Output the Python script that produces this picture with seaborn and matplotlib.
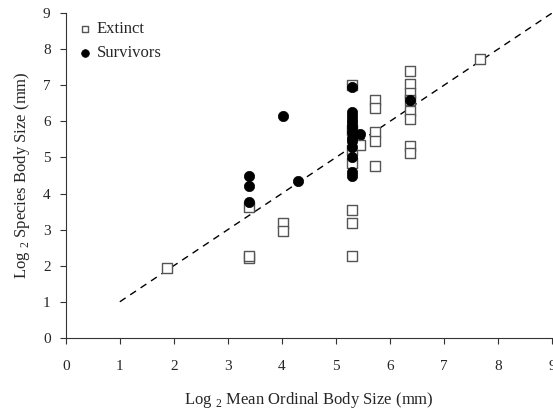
import matplotlib
matplotlib.use("Agg")
import matplotlib.pyplot as plt
import seaborn as sns
import numpy as np
import pandas as pd

# extinct species (open squares)
ext_x = [1.87, 3.4, 3.4, 3.4, 4.02, 4.02, 5.3, 5.3, 5.3, 5.3, 5.3, 5.3, 5.3,
         5.44, 5.73, 5.73, 5.73, 5.73, 5.73,
         6.37, 6.37, 6.37, 6.37, 6.37, 6.37, 6.37, 6.37, 7.67]
ext_y = [1.93, 2.2, 2.28, 3.62, 3.18, 2.96, 7.0, 5.75, 5.2, 4.85, 3.55, 3.18, 2.27,
         5.35, 6.6, 6.36, 5.7, 5.47, 4.76,
         7.4, 7.03, 6.8, 6.6, 6.3, 6.07, 5.33, 5.12, 7.72]

# surviving species (filled circles)
surv_x = [3.4, 3.4, 3.4, 4.02, 4.3,
          5.3, 5.3, 5.3, 5.3, 5.3, 5.3, 5.3, 5.3, 5.3, 5.3, 5.3, 5.3, 5.3,
          5.44, 6.37]
surv_y = [4.48, 4.2, 3.76, 6.15, 4.35,
          6.95, 6.25, 6.15, 6.05, 5.95, 5.85, 5.7, 5.55, 5.45, 5.3, 5.0, 4.6, 4.48,
          5.65, 6.58]

line_x = [1, 9]
line_y = [1, 9]

ticks = list(range(0, 10))

df = pd.DataFrame({
    "x": ext_x + surv_x,
    "y": ext_y + surv_y,
    "group": ["Extinct"] * len(ext_x) + ["Survivors"] * len(surv_x),
})

sns.set_style("ticks")
plt.rcParams["font.family"] = ["Liberation Serif", "DejaVu Serif"]
plt.rcParams["mathtext.fontset"] = "custom"
plt.rcParams["mathtext.rm"] = "Liberation Serif"

fig = plt.figure(figsize=(5.53, 4.11), dpi=100)
ax = fig.add_axes([0.119, 0.178, 0.879, 0.79])

ax.plot(line_x, line_y, ls=(0, (5, 4)), color="black", lw=1.0, zorder=1)

ext = df[df.group == "Extinct"]
surv = df[df.group == "Survivors"]
sns.scatterplot(data=ext, x="x", y="y", marker="s", s=42, color="white",
                edgecolor="#555555", linewidth=1.0, ax=ax, label="Extinct", zorder=2)
sns.scatterplot(data=surv, x="x", y="y", marker="o", s=55, color="black",
                edgecolor="black", linewidth=0.5, ax=ax, label="Survivors", zorder=3)

ax.set_xlim(0, 9)
ax.set_ylim(0, 9)
ax.set_xticks(ticks)
ax.set_yticks(ticks)
ax.tick_params(labelsize=11, direction="out", length=4, width=0.8, color="#333333")
ax.tick_params(axis="x", pad=12)
ax.tick_params(axis="y", pad=7)
sns.despine(ax=ax)
for sp in ["left", "bottom"]:
    ax.spines[sp].set_color("#333333")
    ax.spines[sp].set_linewidth(0.8)

ax.set_xlabel(r"Log $_{\mathrm{2}}$ Mean Ordinal Body Size (mm)", fontsize=12, labelpad=12)
ax.set_ylabel(r"Log $_{\mathrm{2}}$ Species Body Size (mm)", fontsize=12, labelpad=8)

leg = ax.legend(loc="upper left", frameon=False, fontsize=12, handletextpad=0.3,
                borderaxespad=0.0, bbox_to_anchor=(0.012, 0.995), labelspacing=0.45,
                handlelength=0.8, markerscale=0.75)

fig.savefig("out.png", dpi=100)
